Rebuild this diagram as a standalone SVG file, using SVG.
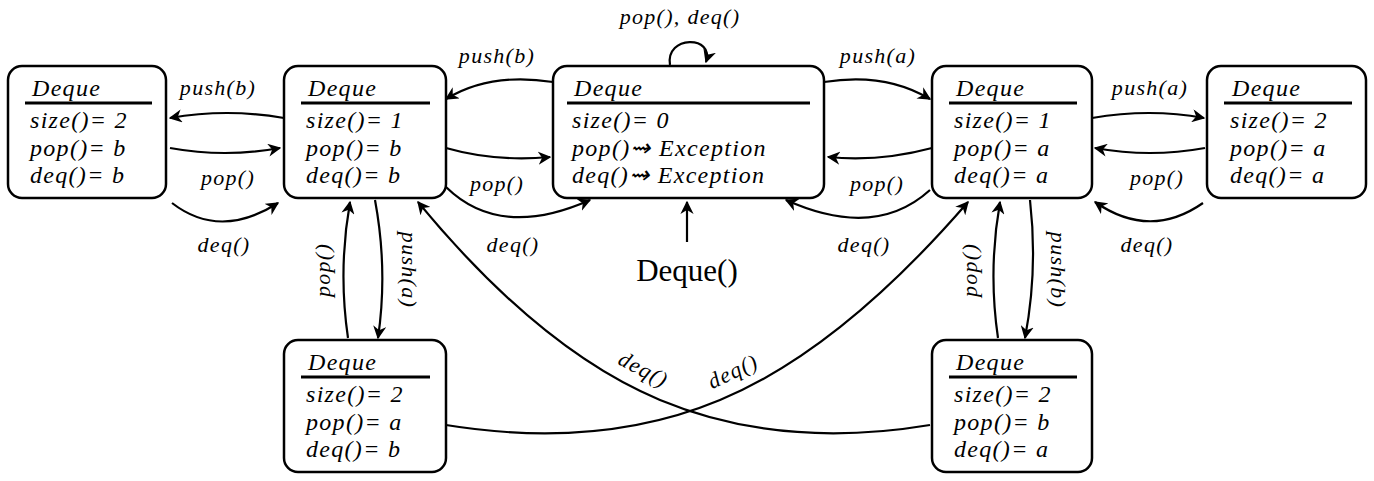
<svg xmlns="http://www.w3.org/2000/svg" width="1374" height="481" viewBox="0 0 1374 481">
<style>
.n{fill:#fff;stroke:#000;stroke-width:2.5}
.t{font-family:"Liberation Serif",serif;font-style:italic;font-size:24px;letter-spacing:1.3px}
.l{font-family:"Liberation Serif",serif;font-style:italic;font-size:22px;letter-spacing:1.3px}
.e{fill:none;stroke:#000;stroke-width:2.2;marker-end:url(#a)}
.h{stroke:#000;stroke-width:3}
</style>
<defs><marker id="a" viewBox="0 0 10 10" refX="9" refY="5" markerWidth="6" markerHeight="6" orient="auto"><path d="M0,0 L10,5 L0,10 L3,5 Z" fill="#000"/></marker></defs>
<rect width="1374" height="481" fill="#fff"/>
<g id="nA"><rect class="n" x="8" y="66" width="158" height="132" rx="14"/><text class="t" x="32" y="96">Deque</text><line class="h" x1="25" y1="103" x2="152" y2="103"/><text class="t" x="30" y="128">size()= 2</text><text class="t" x="30" y="156">pop()= b</text><text class="t" x="30" y="183">deq()= b</text></g>
<g id="nB"><rect class="n" x="284" y="66" width="162" height="132" rx="14"/><text class="t" x="308" y="96">Deque</text><line class="h" x1="301" y1="103" x2="430" y2="103"/><text class="t" x="306" y="128">size()= 1</text><text class="t" x="306" y="156">pop()= b</text><text class="t" x="306" y="183">deq()= b</text></g>
<g id="nC"><rect class="n" x="553" y="66" width="271" height="132" rx="14"/><text class="t" x="574" y="96">Deque</text><line class="h" x1="567" y1="103" x2="810" y2="103"/><text class="t" x="572" y="128">size()= 0</text><text class="t" x="572" y="156">pop()⇝ Exception</text><text class="t" x="572" y="183">deq()⇝ Exception</text></g>
<g id="nD"><rect class="n" x="932" y="66" width="160" height="132" rx="14"/><text class="t" x="956" y="96">Deque</text><line class="h" x1="949" y1="103" x2="1077" y2="103"/><text class="t" x="954" y="128">size()= 1</text><text class="t" x="954" y="156">pop()= a</text><text class="t" x="954" y="183">deq()= a</text></g>
<g id="nE"><rect class="n" x="1207" y="66" width="159" height="132" rx="14"/><text class="t" x="1232" y="96">Deque</text><line class="h" x1="1224" y1="103" x2="1352" y2="103"/><text class="t" x="1230" y="128">size()= 2</text><text class="t" x="1230" y="156">pop()= a</text><text class="t" x="1230" y="183">deq()= a</text></g>
<g id="nF"><rect class="n" x="284" y="340" width="162" height="132" rx="14"/><text class="t" x="308" y="370">Deque</text><line class="h" x1="301" y1="377" x2="430" y2="377"/><text class="t" x="306" y="402">size()= 2</text><text class="t" x="306" y="430">pop()= a</text><text class="t" x="306" y="457">deq()= b</text></g>
<g id="nG"><rect class="n" x="932" y="340" width="160" height="132" rx="14"/><text class="t" x="956" y="370">Deque</text><line class="h" x1="949" y1="377" x2="1077" y2="377"/><text class="t" x="954" y="402">size()= 2</text><text class="t" x="954" y="430">pop()= b</text><text class="t" x="954" y="457">deq()= a</text></g>
<g id="edges">
<path class="e" d="M284,118 Q227,108 170,118"/>
<path class="e" d="M170,148 Q225,158 280,148"/>
<path class="e" d="M172,203 Q220,240 278,203"/>
<path class="e" d="M553,82 Q490,72 446,99"/>
<path class="e" d="M446,148 Q495,162 550,157"/>
<path class="e" d="M446,187 Q500,240 590,200"/>
<path class="e" d="M670,65 C665,35 715,35 706,62"/>
<path class="e" d="M687,242 L687,202"/>
<path class="e" d="M824,82 Q885,72 930,99"/>
<path class="e" d="M932,148 Q880,162 828,157"/>
<path class="e" d="M930,190 Q875,240 786,200"/>
<path class="e" d="M1092,118 Q1150,108 1204,118"/>
<path class="e" d="M1205,148 Q1150,158 1095,148"/>
<path class="e" d="M1203,203 Q1150,240 1095,202"/>
<path class="e" d="M375,200 Q388,270 378,338"/>
<path class="e" d="M348,338 Q338,270 350,202"/>
<path class="e" d="M1030,200 Q1038,270 1025,338"/>
<path class="e" d="M998,338 Q988,270 1000,202"/>
<path class="e" d="M930,425 Q780,450 660,400 T418,202"/>
<path class="e" d="M446,425 Q600,450 720,400 T968,202"/>
</g>
<g id="labels">
<text class="l" x="218" y="95" text-anchor="middle">push(b)</text>
<text class="l" x="228" y="185" text-anchor="middle">pop()</text>
<text class="l" x="224" y="252" text-anchor="middle">deq()</text>
<text class="l" x="497" y="63" text-anchor="middle">push(b)</text>
<text class="l" x="497" y="191" text-anchor="middle">pop()</text>
<text class="l" x="513" y="252" text-anchor="middle">deq()</text>
<text class="l" x="680" y="24" text-anchor="middle">pop(), deq()</text>
<text x="687" y="281" text-anchor="middle" style="font-family:'Liberation Serif',serif;font-size:31px">Deque()</text>
<text class="l" x="878" y="63" text-anchor="middle">push(a)</text>
<text class="l" x="877" y="191" text-anchor="middle">pop()</text>
<text class="l" x="864" y="252" text-anchor="middle">deq()</text>
<text class="l" x="1150" y="95" text-anchor="middle">push(a)</text>
<text class="l" x="1157" y="185" text-anchor="middle">pop()</text>
<text class="l" x="1147" y="252" text-anchor="middle">deq()</text>
<text class="l" transform="translate(402,270) rotate(90)" text-anchor="middle">push(a)</text>
<text class="l" transform="translate(330,270) rotate(-90)" text-anchor="middle">pop()</text>
<text class="l" transform="translate(1051,270) rotate(90)" text-anchor="middle">push(b)</text>
<text class="l" transform="translate(977,270) rotate(-90)" text-anchor="middle">pop()</text>
<text class="l" transform="translate(640,376) rotate(28)" text-anchor="middle">deq()</text>
<text class="l" transform="translate(736,378) rotate(-25)" text-anchor="middle">deq()</text>
</g>
</svg>
